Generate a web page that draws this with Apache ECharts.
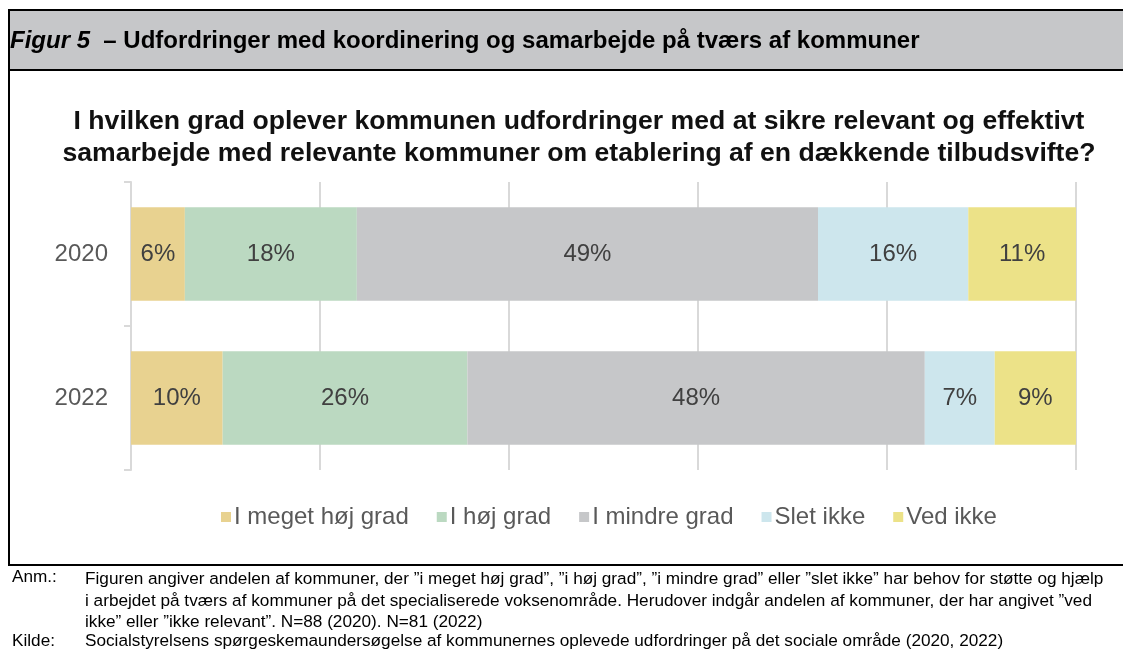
<!DOCTYPE html>
<html style="height: 100%">
    <head>
        <meta charset="utf-8">
    </head>
    <body style="height: 100%; margin: 0">
        <div id="container" style="width: 1123px; height: 651px"></div>
        <script type="text/javascript" src="https://cdn.jsdelivr.net/npm/echarts@6/dist/echarts.min.js"></script>
        <script type="text/javascript">
    // data
    var years = ['2020', '2022'];
    var seriesNames = ['I meget høj grad', 'I høj grad', 'I mindre grad', 'Slet ikke', 'Ved ikke'];
    var meget = [5.7, 9.7];
    var hoj = [18.2, 25.9];
    var mindre = [48.8, 48.4];
    var slet = [15.9, 7.4];
    var vedIkke = [11.4, 8.6];
    var colors = ['#e8d290', '#bbd9c1', '#c6c7c9', '#cde6ed', '#ece288'];

    var values = [meget, hoj, mindre, slet, vedIkke];

    var dom = document.getElementById("container");
    var myChart = echarts.init(dom);
    var option;

    var series = [];
    for (var i = 0; i < seriesNames.length; i++) {
        series.push({
            name: seriesNames[i],
            type: 'bar',
            stack: 'total',
            barWidth: '65%',
            data: values[i],
            itemStyle: { color: colors[i] },
            label: {
                show: true,
                position: 'inside',
                fontSize: 24,
                fontFamily: 'Liberation Sans',
                color: '#404040',
                formatter: function (p) { return Math.round(p.value) + '%'; }
            }
        });
    }

    var noteFont = 'Liberation Sans';

    option = {
        animation: false,
        backgroundColor: '#fff',
        title: {
            text: 'I hvilken grad oplever kommunen udfordringer med at sikre relevant og effektivt\nsamarbejde med relevante kommuner om etablering af en dækkende tilbudsvifte?',
            left: 574,
            textAlign: 'center',
            top: 101,
            textStyle: {
                fontSize: 26.6,
                fontWeight: 'bold',
                fontFamily: 'Liberation Sans',
                color: '#111',
                lineHeight: 32
            }
        },
        legend: {
            data: seriesNames,
            left: 216,
            top: 500,
            icon: 'rect',
            itemWidth: 10,
            itemHeight: 10,
            itemGap: 28,
            textStyle: {
                fontSize: 24,
                fontFamily: 'Liberation Sans',
                color: '#595959',
                padding: [0, 0, 0, -2]
            }
        },
        grid: {
            left: 131,
            right: 47,
            top: 182,
            bottom: 181
        },
        xAxis: {
            type: 'value',
            min: 0,
            max: 100,
            interval: 20,
            axisLabel: { show: false },
            axisLine: { show: false },
            axisTick: { show: false },
            splitLine: { lineStyle: { color: '#d9d9d9', width: 2 } }
        },
        yAxis: {
            type: 'category',
            data: years,
            inverse: true,
            axisLine: { lineStyle: { color: '#d9d9d9', width: 2 } },
            axisTick: { show: true, length: 7, lineStyle: { color: '#d9d9d9', width: 2 } },
            axisLabel: {
                fontSize: 24,
                fontFamily: 'Liberation Sans',
                color: '#595959',
                margin: 23
            }
        },
        graphic: [
            // header band
            {
                type: 'rect',
                shape: { x: 9, y: 10, width: 1120, height: 60 },
                style: { fill: '#c6c7c9', stroke: '#000', lineWidth: 2 },
                z: 0
            },
            {
                type: 'text',
                left: 10,
                top: 29,
                style: {
                    text: '{i|Figur 5}{b|  – Udfordringer med koordinering og samarbejde på tværs af kommuner}',
                    rich: {
                        i: { fontSize: 24, fontStyle: 'italic', fontWeight: 'bold', fontFamily: 'Liberation Sans', fill: '#000' },
                        b: { fontSize: 24, fontWeight: 'bold', fontFamily: 'Liberation Sans', fill: '#000' }
                    }
                }
            },
            // box sides
            {
                type: 'line',
                shape: { x1: 9, y1: 10, x2: 9, y2: 565 },
                style: { stroke: '#000', lineWidth: 2 }
            },
            {
                type: 'line',
                shape: { x1: 8, y1: 565, x2: 1123, y2: 565 },
                style: { stroke: '#000', lineWidth: 2 }
            },
            // notes
            {
                type: 'text',
                left: 12,
                top: 569,
                style: { text: 'Anm.:', fontSize: 17.2, fontFamily: noteFont, fill: '#000' }
            },
            {
                type: 'text',
                left: 85,
                top: 569,
                style: {
                    text: 'Figuren angiver andelen af kommuner, der ”i meget høj grad”, ”i høj grad”, ”i mindre grad” eller ”slet ikke” har behov for støtte og hjælp\ni arbejdet på tværs af kommuner på det specialiserede voksenområde. Herudover indgår andelen af kommuner, der har angivet ”ved\nikke” eller ”ikke relevant”. N=88 (2020). N=81 (2022)',
                    fontSize: 17.2,
                    lineHeight: 21.5,
                    fontFamily: noteFont,
                    fill: '#000'
                }
            },
            {
                type: 'text',
                left: 12,
                top: 633,
                style: { text: 'Kilde:', fontSize: 17.2, fontFamily: noteFont, fill: '#000' }
            },
            {
                type: 'text',
                left: 85,
                top: 633,
                style: {
                    text: 'Socialstyrelsens spørgeskemaundersøgelse af kommunernes oplevede udfordringer på det sociale område (2020, 2022)',
                    fontSize: 17.2,
                    fontFamily: noteFont,
                    fill: '#000'
                }
            }
        ],
        series: series
    };

    if (option && typeof option === 'object') {
        myChart.setOption(option);
    }
        </script>
    </body>
</html>
